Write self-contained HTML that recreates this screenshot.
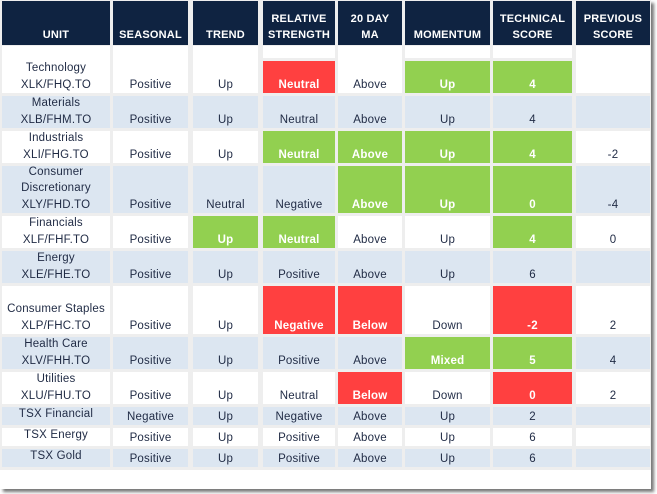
<!DOCTYPE html>
<html><head><meta charset="utf-8"><style>
body{margin:0;width:657px;height:494px;background:#fff;overflow:hidden;font-family:"Liberation Sans",sans-serif;}
#wrap{position:absolute;left:0;top:0;width:651px;height:489px;background:#fff;box-shadow:3px 3px 3px #777;}
#grid{position:absolute;left:0;top:0;width:651px;height:470px;background:#eeeeee;}
.c{position:absolute;box-sizing:border-box;font-size:11.5px;color:#1f2a44;text-align:center;display:flex;flex-direction:column;justify-content:flex-end;padding-bottom:0px;line-height:15px;letter-spacing:0.2px;}
.u{line-height:16.5px;}
.h{background:#0f2341;color:#fff;font-weight:bold;font-size:11px;padding-bottom:2px;line-height:16px;}
.g{background:#92d050;color:#fff;font-weight:bold;}
.r{background:#ff4040;color:#fff;font-weight:bold;}
</style></head><body>
<div id="wrap"><div id="grid"></div></div>
<script>
const headers=["UNIT","SEASONAL","TREND","RELATIVE<br>STRENGTH","20 DAY<br>MA","MOMENTUM","TECHNICAL<br>SCORE","PREVIOUS<br>SCORE"];
const units=["Technology<br>XLK/FHQ.TO","Materials<br>XLB/FHM.TO","Industrials<br>XLI/FHG.TO","Consumer<br>Discretionary<br>XLY/FHD.TO","Financials<br>XLF/FHF.TO","Energy<br>XLE/FHE.TO","Consumer Staples<br>XLP/FHC.TO","Health Care<br>XLV/FHH.TO","Utilities<br>XLU/FHU.TO","TSX Financial","TSX Energy","TSX Gold"];
const seasonal=["Positive","Positive","Positive","Positive","Positive","Positive","Positive","Positive","Positive","Negative","Positive","Positive"];
const trend=["Up","Up","Up","Neutral","Up","Up","Up","Up","Up","Up","Up","Up"];
const relStrength=["Neutral","Neutral","Neutral","Negative","Neutral","Positive","Negative","Positive","Neutral","Negative","Positive","Positive"];
const ma20=["Above","Above","Above","Above","Above","Above","Below","Above","Below","Above","Above","Above"];
const momentum=["Up","Up","Up","Up","Up","Up","Down","Mixed","Down","Up","Up","Up"];
const techScore=["4","4","4","0","4","6","-2","5","0","2","6","6"];
const prevScore=["","","-2","-4","0","","2","4","2","","",""];
const colors=["--r-gg","------","--gggg","---ggg","-gg--g","------","--rr-r","----gg","---r-r","------","------","------"];
const colX=[[2,110],[113,188],[193,258],[263,335],[338,402],[405,490],[493,572],[576,650]];
const rowY=[[46,93],[96,128],[131,163],[166,213],[216,248],[251,283],[286,334],[337,369],[372,404],[407,425],[428,446],[449,467]];
const names=["unit","seasonal","trend","relative-strength","20-day-ma","momentum","technical-score","previous-score"];
const grid=document.getElementById('grid');
function cell(x0,x1,y0,y1,html,cls,name){
  const d=document.createElement('div');
  d.className='c '+cls;
  d.style.left=x0+'px';d.style.width=(x1-x0)+'px';d.style.top=y0+'px';d.style.height=(y1-y0)+'px';
  d.innerHTML='<span>'+html+'</span>';
  
  
  grid.appendChild(d);
}
headers.forEach((h,i)=>cell(colX[i][0],colX[i][1],1,45,h,'h','header-'+names[i]));
const cols=[units,seasonal,trend,relStrength,ma20,momentum,techScore,prevScore];
rowY.forEach((ry,r)=>{
  const bg=(r%2===1)?'#dce6f1':'#ffffff';
  cols.forEach((arr,c)=>{
    const flag=c>0&&c<7?colors[r][c-1]:'-';
    let cls=flag==='g'?'g':flag==='r'?'r':'';
    if(c===0) cls='u';
    let y0=ry[0];
    if(r===0&&(flag==='g'||flag==='r')){
      cell(colX[c][0],colX[c][1],ry[0],58,'','', 'row-spacer');
      grid.lastChild.style.background=bg;
      y0=61;
    }
    cell(colX[c][0],colX[c][1],y0,ry[1],arr[r],cls,names[c]+'-cell');
    if(flag!=='g'&&flag!=='r') grid.lastChild.style.background=bg;
    if(c===0&&r>=9){grid.lastChild.style.justifyContent='center';grid.lastChild.style.paddingBottom='3px';}
  });
});
</script>
</body></html>
